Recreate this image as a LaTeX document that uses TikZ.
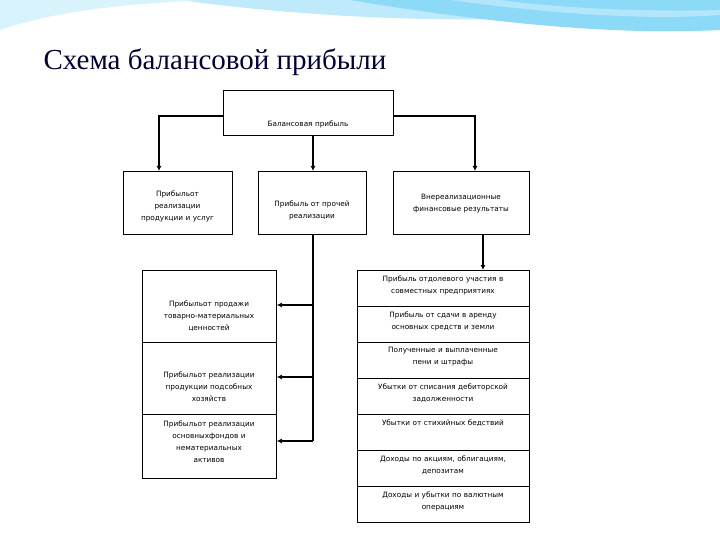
\documentclass[tikz,border=0pt]{standalone}
\usepackage{fontspec}
\setmainfont{DejaVu Sans}
\newfontfamily\titlefont{Liberation Serif}
\begin{document}
\begin{tikzpicture}[x=1pt,y=-1pt,
  bx/.style={draw,line width=0.8pt,fill=white,inner sep=0pt},
  lb/.style={font=\fontsize{7.3}{12}\selectfont,align=center,text width=#1},
  con/.style={line width=1.5pt,-{Latex[length=5pt,width=5pt]}}]
\usetikzlibrary{arrows.meta}
\useasboundingbox (0,0) rectangle (720,540);
\fill[white] (0,0) rectangle (720,540);
% decorative swooshes
\fill[cyan!25] (180,0) .. controls (400,30) and (600,20) .. (720,5) -- (720,0) -- cycle;
\fill[cyan!45] (350,0) .. controls (500,25) and (620,35) .. (720,30) -- (720,0) -- cycle;
\fill[cyan!15] (0,0) -- (0,30) .. controls (60,10) and (120,5) .. (200,0) -- cycle;
\fill[white!70!cyan] (450,0) .. controls (560,15) and (650,20) .. (720,15) -- (720,10) .. controls (640,12) and (560,8) .. (500,0) -- cycle;
\node[anchor=west,text=blue!20!black,font=\titlefont\fontsize{29}{32}\selectfont] (title) at (40,62) {Схема балансовой прибыли};
% boxes
\node[bx,minimum width=170,minimum height=45,anchor=north west] (top) at (223,90) {};
\node[lb=160] at (308,124) {Балансовая прибыль};
\node[bx,minimum width=109,minimum height=63,anchor=north west] (a) at (123,171) {};
\node[lb=105] at (177.5,206) {Прибыльот\\реализации\\продукции и услуг};
\node[bx,minimum width=108,minimum height=63,anchor=north west] (b) at (258,171) {};
\node[lb=104] at (312,210) {Прибыль от прочей\\реализации};
\node[bx,minimum width=136,minimum height=63,anchor=north west] (c) at (393,171) {};
\node[lb=132] at (461,204) {Внереализационные\\финансовые результаты};
% left column
\node[bx,minimum width=134,minimum height=72,anchor=north west] (l1) at (142,270) {};
\node[lb=132] at (209,316) {Прибыльот продажи\\товарно-материальных\\ценностей};
\node[bx,minimum width=134,minimum height=72,anchor=north west] (l2) at (142,342) {};
\node[lb=132] at (209,387) {Прибыльот реализации\\продукции подсобных\\хозяйств};
\node[bx,minimum width=134,minimum height=64,anchor=north west] (l3) at (142,414) {};
\node[lb=132,anchor=north] at (209,417) {Прибыльот реализации\\основныхфондов и\\нематериальных\\активов};
% right column
\foreach \i/\ya/\yb/\t in {1/270/306/{Прибыль отдолевого участия в\\совместных предприятиях},
 2/306/342/{Прибыль от сдачи в аренду\\основных средств и земли},
 3/342/378/{Полученные и выплаченные\\пени и штрафы},
 4/378/414/{Убытки от списания дебиторской\\задолженности},
 5/414/450/{Убытки от стихийных бедствий},
 6/450/486/{Доходы по акциям, облигациям,\\депозитам},
 7/486/522/{Доходы и убытки по валютным\\операциям}}{
  \node[bx,minimum width=172,minimum height=\yb-\ya,anchor=north west] (r\i) at (357,\ya) {};
  \node[lb=172,anchor=north] at (443,\ya+2) {\t};
}
% connectors
\coordinate (tl) at (159,116);
\coordinate (tr) at (475,116);
\draw[con] (top.west |- tl) -| (a.north -| tl);
\draw[con] (top.south -| 313,0) -- (b.north -| 313,0);
\draw[con] (top.east |- tr) -| (c.north -| tr);
\coordinate (v1) at (313,441);
\draw[line width=1.5pt] (b.south -| v1) -- (v1);
\draw[con] (313,305) -- (l1.east |- 0,305);
\draw[con] (313,377) -- (l2.east |- 0,377);
\draw[con] (v1) -- (l3.east |- v1);
\draw[con] (c.south -| 483,0) -- (r1.north -| 483,0);
\end{tikzpicture}
\end{document}
